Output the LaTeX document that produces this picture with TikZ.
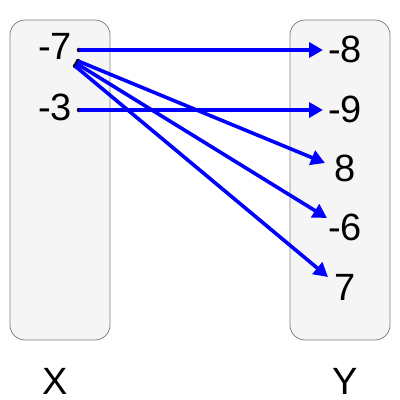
\documentclass[tikz,border=0pt]{standalone}
\usepackage{fontspec}
\setmainfont{Liberation Sans}
\usetikzlibrary{arrows.meta}
\begin{document}
\begin{tikzpicture}[x=1pt,y=-1pt,
  setbox/.style={draw=black!50, fill=black!4, rounded corners=15pt, line width=0.8pt},
  num/.style={font=\fontsize{38}{40}\selectfont, inner sep=0pt, anchor=base},
  map/.style={-{Triangle[length=14pt,width=15pt]}, blue, line width=3.6pt},
  dot/.style={fill=black, circle, inner sep=0pt, minimum size=4.5pt}]
\useasboundingbox (0,0) rectangle (400,400);
\draw[setbox] (10,20) rectangle (110,340);
\draw[setbox] (290,20) rectangle (390,340);
% domain
\node [num] (m7) at (55,59.5) {-7};
\node [num] (m3) at (55,120) {-3};
\node [num] (X) at (55,394) {X};
% codomain
\node [num] (m8) at (345,62) {-8};
\node [num] (m9) at (345,122) {-9};
\node [num] (p8) at (345,181) {8};
\node [num] (m6) at (345,240) {-6};
\node [num] (p7) at (345,300) {7};
\node [num] (Y) at (345,394) {Y};
% start points
\node [dot] (a) at (79,50) {};
\node [dot] (b) at (79,110) {};
\node [dot] (c) at (78,61) {};
\node [dot] (d) at (76.5,63.5) {};
\node [dot] (e) at (75,66) {};
% end points
\coordinate (ta) at (323,50);
\coordinate (tb) at (323,110);
\coordinate (tc) at (325,163);
\coordinate (td) at (327,218);
\coordinate (te) at (328,277);
\draw[map] (a.center) -- (ta);
\draw[map] (b.center) -- (tb);
\draw[map] (c.center) -- (tc);
\draw[map] (d.center) -- (td);
\draw[map] (e.center) -- (te);
\end{tikzpicture}
\end{document}
